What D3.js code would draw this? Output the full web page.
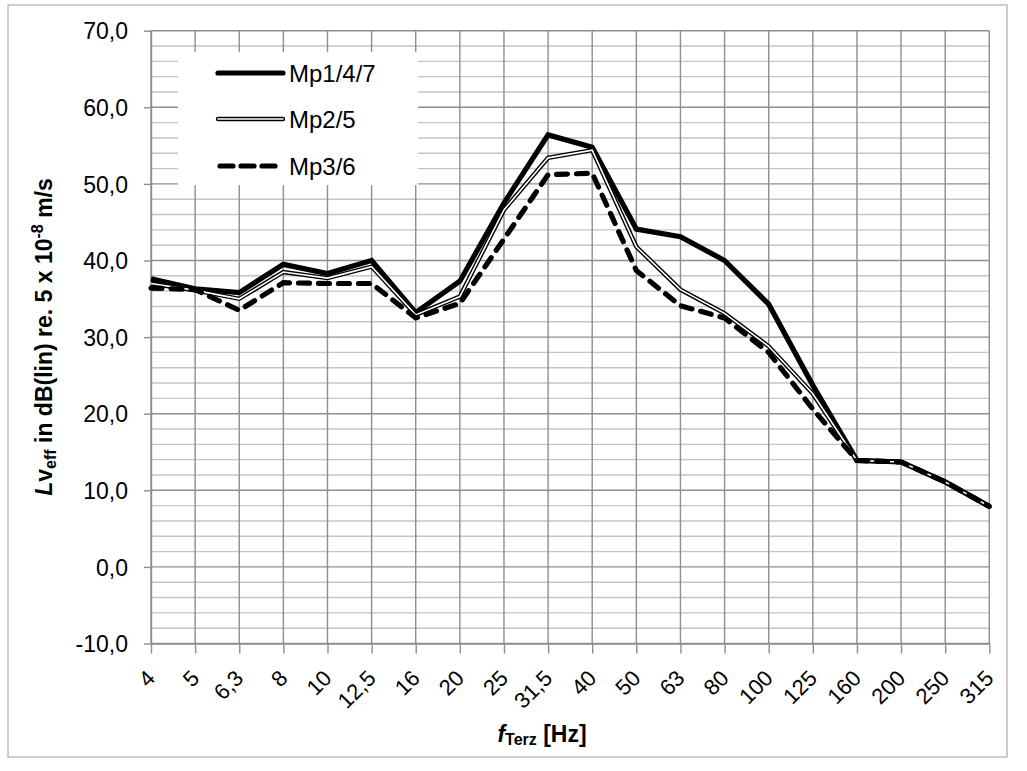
<!DOCTYPE html>
<html>
<head>
<meta charset="utf-8">
<script src="https://cdn.jsdelivr.net/npm/d3@7"></script>
<style>
  html, body { margin: 0; padding: 0; background: #fff; }
  svg { display: block; font-family: "Liberation Sans", Arial, sans-serif; }
</style>
</head>
<body>
<svg id="chart" width="1027" height="771"></svg>
<script>
// ---- data ----
const categories = ["4","5","6,3","8","10","12,5","16","20","25","31,5","40","50","63","80","100","125","160","200","250","315"];
const mp147 = [37.6,36.3,35.8,39.5,38.3,40.0,33.2,37.3,47.5,56.4,54.8,44.1,43.1,40.0,34.3,23.7,13.9,13.7,11.1,7.9];
const mp25  = [37.0,36.1,35.0,38.5,37.7,39.2,32.9,35.3,46.6,53.4,54.4,41.8,36.2,33.1,28.8,22.6,13.9,13.7,11.1,7.9];
const mp36  = [36.4,36.2,33.5,37.1,37.0,37.0,32.5,34.4,42.8,51.2,51.4,38.7,34.1,32.5,28.0,20.6,13.9,13.7,11.1,7.9];
const seriesNames = ["Mp1/4/7","Mp2/5","Mp3/6"];
const yMajorTicks = [-10,0,10,20,30,40,50,60,70];
const yMinorTicks = [-8,-6,-4,-2,2,4,6,8,12,14,16,18,22,24,26,28,32,34,36,38,42,44,46,48,52,54,56,58,62,64,66,68];

(function () {
// ---- layout ----
const svg = d3.select("#chart");
const pLeft = 151, pRight = 989.3, pTop = 30.7, pBottom = 643.5;

const x = d3.scalePoint().domain(categories).range([pLeft, pRight]);
const y = d3.scaleLinear().domain([-10, 70]).range([pBottom, pTop]);

// chart border
svg.append("rect").attr("x", 8).attr("y", 5).attr("width", 999).attr("height", 752)
  .attr("fill", "#fff").attr("stroke", "#bdbdbd").attr("stroke-width", 1.5);

// minor horizontal grid
svg.append("g").selectAll("line").data(yMinorTicks).join("line")
  .attr("x1", pLeft).attr("x2", pRight).attr("y1", d => y(d)).attr("y2", d => y(d))
  .attr("stroke", "#c4c4c4").attr("stroke-width", 1.4);
// vertical grid
svg.append("g").selectAll("line").data(categories).join("line")
  .attr("x1", d => x(d)).attr("x2", d => x(d)).attr("y1", pTop).attr("y2", pBottom)
  .attr("stroke", "#8e8e8e").attr("stroke-width", 1.4);
// major horizontal grid
svg.append("g").selectAll("line").data(yMajorTicks).join("line")
  .attr("x1", pLeft).attr("x2", pRight).attr("y1", d => y(d)).attr("y2", d => y(d))
  .attr("stroke", "#8e8e8e").attr("stroke-width", 1.4);

// y axis
const fmt = v => d3.format(".1f")(v).replace(".", ",").replace("\u2212", "-");
const yAxis = d3.axisLeft(y).tickValues(yMajorTicks).tickSize(7).tickSizeOuter(0).tickPadding(16).tickFormat(fmt);
const gy = svg.append("g").attr("transform", `translate(${pLeft},0)`).call(yAxis);
gy.select(".domain").attr("stroke", "#8e8e8e").attr("stroke-width", 1.4);
gy.selectAll(".tick line").attr("stroke", "#8e8e8e").attr("stroke-width", 1.4);
gy.selectAll(".tick text").attr("font-size", 23).attr("fill", "#000")
  .attr("font-family", "'Liberation Sans', Arial, sans-serif").attr("dy", "0.36em");

// x axis
const xAxis = d3.axisBottom(x).tickSize(10).tickSizeOuter(0);
const gx = svg.append("g").attr("transform", `translate(0,${pBottom})`).call(xAxis);
gx.select(".domain").attr("stroke", "#8e8e8e").attr("stroke-width", 1.4);
gx.selectAll(".tick line").attr("stroke", "#8e8e8e").attr("stroke-width", 1.4);
gx.selectAll(".tick text")
  .attr("font-size", 22).attr("fill", "#000")
  .attr("font-family", "'Liberation Sans', Arial, sans-serif")
  .attr("text-anchor", "end").attr("dy", null).attr("y", null)
  .attr("transform", "translate(5,36) rotate(-45)");

// lines
const line = d3.line().x((d, i) => x(categories[i])).y(d => y(d));
const plot = svg.append("g").attr("fill", "none").attr("stroke-linejoin", "miter");
plot.append("path").attr("d", line(mp147)).attr("stroke", "#000").attr("stroke-width", 5.2);
plot.append("path").attr("d", line(mp25)).attr("stroke", "#000").attr("stroke-width", 4.4);
plot.append("path").attr("d", line(mp25)).attr("stroke", "#fff").attr("stroke-width", 1.6);
plot.append("path").attr("d", line(mp36)).attr("stroke", "#000").attr("stroke-width", 5.2)
  .attr("stroke-dasharray", "11,9").attr("stroke-linecap", "round");

// legend
const lg = svg.append("g");
lg.append("rect").attr("x", 178).attr("y", 52).attr("width", 240).attr("height", 133).attr("fill", "#fff");
const rowsY = [73, 119, 166];
const lx1 = 218, lx2 = 283;
lg.append("line").attr("x1", lx1).attr("x2", lx2).attr("y1", rowsY[0]).attr("y2", rowsY[0])
  .attr("stroke", "#000").attr("stroke-width", 5.2).attr("stroke-linecap", "round");
lg.append("line").attr("x1", lx1).attr("x2", lx2).attr("y1", rowsY[1]).attr("y2", rowsY[1])
  .attr("stroke", "#000").attr("stroke-width", 4.4).attr("stroke-linecap", "round");
lg.append("line").attr("x1", lx1).attr("x2", lx2).attr("y1", rowsY[1]).attr("y2", rowsY[1])
  .attr("stroke", "#fff").attr("stroke-width", 1.6).attr("stroke-linecap", "round");
lg.append("line").attr("x1", lx1 + 2).attr("x2", lx2).attr("y1", rowsY[2]).attr("y2", rowsY[2])
  .attr("stroke", "#000").attr("stroke-width", 5.2).attr("stroke-dasharray", "13,8").attr("stroke-linecap", "round");
lg.selectAll("text").data(seriesNames).join("text")
  .attr("x", 289).attr("y", (d, i) => rowsY[i]).attr("dy", "0.36em")
  .attr("font-size", 24).attr("fill", "#000").text(d => d);

// y axis title
const yt = svg.append("text")
  .attr("transform", "translate(52,337) rotate(-90)")
  .attr("text-anchor", "middle").attr("font-size", 23).attr("font-weight", "bold").attr("fill", "#000");
yt.append("tspan").attr("font-style", "italic").text("L");
yt.append("tspan").text("v");
yt.append("tspan").attr("font-size", 16).attr("dy", 4).text("eff");
yt.append("tspan").attr("dy", -4).text(" in dB(lin) re. 5 x 10");
yt.append("tspan").attr("font-size", 16).attr("dy", -9).text("-8");
yt.append("tspan").attr("dy", 9).text(" m/s");

// x axis title
const xt = svg.append("text").attr("x", 542).attr("y", 742)
  .attr("text-anchor", "middle").attr("font-size", 23).attr("font-weight", "bold").attr("fill", "#000");
xt.append("tspan").attr("font-style", "italic").text("f");
xt.append("tspan").attr("font-size", 16).attr("dy", 3).text("Terz");
xt.append("tspan").attr("dy", -3).text(" [Hz]");
})();
</script>
</body>
</html>
